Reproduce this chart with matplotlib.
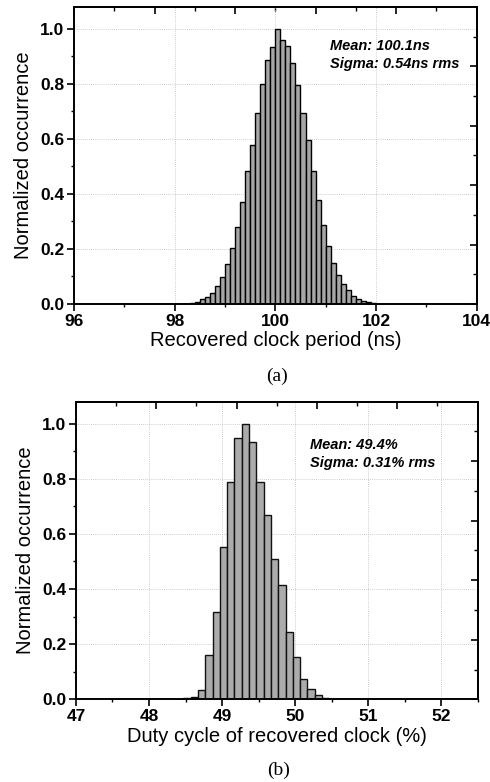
import matplotlib
matplotlib.use('Agg')
import matplotlib.pyplot as plt
from matplotlib.ticker import MultipleLocator, FormatStrFormatter

plt.rcParams['font.family'] = ['Liberation Sans', 'DejaVu Sans']

# (a) recovered clock period histogram: left bin edges (ns) and normalized counts
period_edges = [98.3, 98.4, 98.5, 98.6, 98.7, 98.8, 98.9, 99.0, 99.1, 99.2,
                99.3, 99.4, 99.5, 99.6, 99.7, 99.8, 99.9, 100.0, 100.1, 100.2,
                100.3, 100.4, 100.5, 100.6, 100.7, 100.8, 100.9, 101.0, 101.1, 101.2,
                101.3, 101.4, 101.5, 101.6, 101.7, 101.8, 101.9]
period_counts = [0.005, 0.008, 0.017, 0.024, 0.039, 0.067, 0.098, 0.144, 0.205, 0.279,
                 0.369, 0.483, 0.578, 0.694, 0.800, 0.888, 0.933, 1.000, 0.961, 0.939,
                 0.876, 0.795, 0.694, 0.595, 0.484, 0.379, 0.288, 0.212, 0.148, 0.106,
                 0.073, 0.051, 0.030, 0.018, 0.011, 0.006, 0.004]

# (b) duty cycle histogram: left bin edges (%) and normalized counts
duty_edges = [48.47, 48.57, 48.67, 48.77, 48.87, 48.97, 49.07, 49.17, 49.27, 49.37,
              49.47, 49.57, 49.67, 49.77, 49.87, 49.97, 50.07, 50.17, 50.27, 50.37]
duty_counts = [0.003, 0.010, 0.034, 0.160, 0.316, 0.553, 0.788, 0.948, 1.000, 0.935,
               0.787, 0.669, 0.509, 0.413, 0.245, 0.155, 0.075, 0.036, 0.015, 0.006]

stats_a = ['Mean: 100.1ns', 'Sigma: 0.54ns rms']
stats_b = ['Mean: 49.4%', 'Sigma: 0.31% rms']

fig = plt.figure(figsize=(4.9, 7.82), dpi=100)
ax1 = fig.add_axes([0.151, 0.6113, 0.8218, 0.3798])
ax2 = fig.add_axes([0.1551, 0.1058, 0.8194, 0.3806])


def style_axes(ax, xmin, xmax, xmajor, xminor, xlabel):
    ax.set_xlim(xmin, xmax)
    ax.set_ylim(0, 1.08)
    ax.xaxis.set_major_locator(MultipleLocator(xmajor))
    ax.xaxis.set_minor_locator(MultipleLocator(xminor))
    ax.set_yticks([0, 0.2, 0.4, 0.6, 0.8, 1.0])
    ax.yaxis.set_minor_locator(MultipleLocator(0.1))
    ax.yaxis.set_major_formatter(FormatStrFormatter('%.1f'))
    ax.grid(True, which='major', linestyle=(0, (1, 1.5)), color='#bdbdbd', linewidth=0.6)
    ax.set_axisbelow(True)
    for s in ax.spines.values():
        s.set_linewidth(1.4)
    ax.tick_params(which='major', direction='out', length=5, width=1.2, labelsize=12.5, pad=2)
    ax.tick_params(which='minor', direction='out', length=2.5, width=1.0)
    for lab in ax.get_xticklabels() + ax.get_yticklabels():
        lab.set_fontweight('bold')
    ax.set_xlabel(xlabel, fontsize=14.5, labelpad=2)
    ax.set_ylabel('Normalized occurrence', fontsize=14.5, labelpad=5)

    # Origin-style mirrored axes with their own 10-step scale
    top = ax.secondary_xaxis('top', functions=(lambda x: (x - xmin) / (xmax - xmin) * 10,
                                                lambda t: xmin + t * (xmax - xmin) / 10))
    top.xaxis.set_major_locator(MultipleLocator(2))
    top.xaxis.set_minor_locator(MultipleLocator(1))
    top.tick_params(which='major', direction='in', length=5, width=1.2, labeltop=False)
    top.tick_params(which='minor', direction='in', length=3, width=1.0)
    right = ax.secondary_yaxis('right', functions=(lambda y: y / 0.108, lambda t: t * 0.108))
    right.yaxis.set_major_locator(MultipleLocator(2))
    right.yaxis.set_minor_locator(MultipleLocator(1))
    right.tick_params(which='major', direction='in', length=5, width=1.2, labelright=False)
    right.tick_params(which='minor', direction='in', length=3, width=1.0)
    for sec in (top, right):
        for s in sec.spines.values():
            s.set_linewidth(1.4)


ax1.bar(period_edges, period_counts, width=0.1, align='edge',
        color='#a6a6a6', edgecolor='black', linewidth=1.0)
style_axes(ax1, 96, 104, 2, 1, 'Recovered clock period (ns)')
ax1.text(101.08, 0.924, stats_a[0], fontsize=10.5, fontweight='bold', fontstyle='italic')
ax1.text(101.08, 0.857, stats_a[1], fontsize=10.5, fontweight='bold', fontstyle='italic')

ax2.bar(duty_edges, duty_counts, width=0.1, align='edge',
        color='#ababab', edgecolor='#111111', linewidth=1.0)
style_axes(ax2, 47, 52.5, 1, 0.5, 'Duty cycle of recovered clock (%)')
ax2.text(50.21, 0.909, stats_b[0], fontsize=10.5, fontweight='bold', fontstyle='italic')
ax2.text(50.21, 0.844, stats_b[1], fontsize=10.5, fontweight='bold', fontstyle='italic')

fig.text(277 / 490, 1 - 376 / 782, '(a)', ha='center', va='center',
         fontsize=14, family='Liberation Serif')
fig.text(279 / 490, 1 - 770 / 782, '(b)', ha='center', va='center',
         fontsize=14, family='Liberation Serif')

fig.savefig('out.png', dpi=100)
